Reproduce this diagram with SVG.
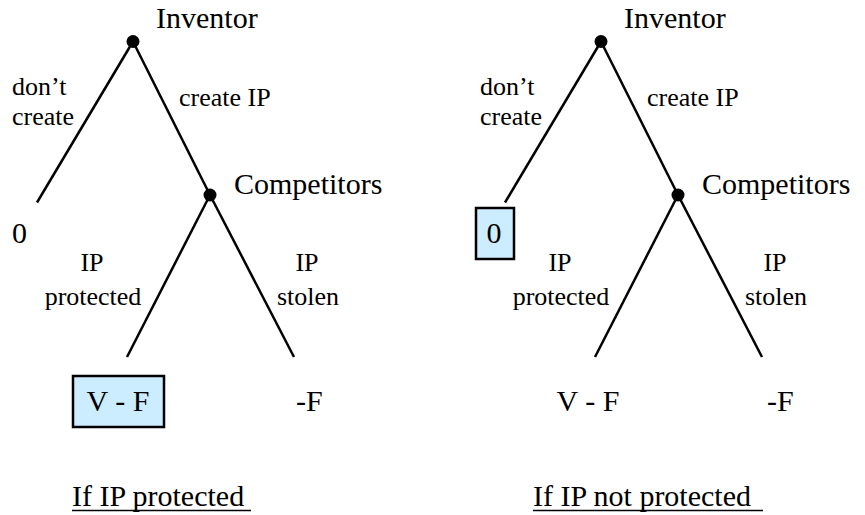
<svg xmlns="http://www.w3.org/2000/svg" width="865" height="515" viewBox="0 0 865 515" font-family="Liberation Serif, Times New Roman, serif">
<style>
.ln{stroke:#000;stroke-width:2.5;fill:none}
.dot{fill:#000}
.big{font-size:30px;fill:#000}
.sm{font-size:26px;fill:#000}
.box{fill:#CCECFF;stroke:#000;stroke-width:2.5}
.ul{stroke:#000;stroke-width:1.5}
</style>
<rect width="865" height="515" fill="#fff"/>
<g id="connectors">
<line class="ln" x1="133" y1="41.5" x2="37" y2="202.5"/>
<line class="ln" x1="133" y1="41.5" x2="210" y2="195"/>
<line class="ln" x1="210" y1="195" x2="127" y2="357"/>
<line class="ln" x1="210" y1="195" x2="294" y2="357"/>
<line class="ln" x1="601" y1="41.5" x2="505" y2="202.5"/>
<line class="ln" x1="601" y1="41.5" x2="678" y2="195"/>
<line class="ln" x1="678" y1="195" x2="595" y2="357"/>
<line class="ln" x1="678" y1="195" x2="762" y2="357"/>
</g>
<g id="left-inventor">
<circle class="dot" cx="133" cy="41.5" r="6.5"/>
<text class="big" x="156" y="28" font-family="Liberation Serif, serif">Inventor</text>
</g>
<g id="left-labels">
<text class="sm" x="12" y="95">don’t</text>
<text class="sm" x="12" y="125">create</text>
<text class="sm" x="179" y="106">create IP</text>
<text class="sm" x="92" y="271" text-anchor="middle">IP</text>
<text class="sm" x="93" y="305" text-anchor="middle">protected</text>
<text class="sm" x="307" y="271" text-anchor="middle">IP</text>
<text class="sm" x="308" y="305" text-anchor="middle">stolen</text>
</g>
<g id="left-competitors">
<circle class="dot" cx="210" cy="195" r="6.5"/>
<text class="big" x="234" y="194">Competitors</text>
</g>
<g id="left-zero">
<text class="big" x="12" y="243">0</text>
</g>
<g id="left-vf">
<rect class="box" x="73" y="376" width="91" height="51"/>
<text class="big" x="118" y="411" text-anchor="middle">V - F</text>
</g>
<g id="left-negf">
<text class="big" x="296" y="411">-F</text>
</g>
<g id="left-title">
<text class="big" x="72" y="506">If IP protected</text>
<line class="ul" x1="72" y1="510.5" x2="251" y2="510.5"/>
</g>
<g id="right-inventor">
<circle class="dot" cx="601" cy="41.5" r="6.5"/>
<text class="big" x="624" y="28">Inventor</text>
</g>
<g id="right-labels">
<text class="sm" x="480" y="95">don’t</text>
<text class="sm" x="480" y="125">create</text>
<text class="sm" x="647" y="106">create IP</text>
<text class="sm" x="560" y="271" text-anchor="middle">IP</text>
<text class="sm" x="561" y="305" text-anchor="middle">protected</text>
<text class="sm" x="775" y="271" text-anchor="middle">IP</text>
<text class="sm" x="776" y="305" text-anchor="middle">stolen</text>
</g>
<g id="right-competitors">
<circle class="dot" cx="678" cy="195" r="6.5"/>
<text class="big" x="702" y="194">Competitors</text>
</g>
<g id="right-zero">
<rect class="box" x="476" y="208" width="38" height="51"/>
<text class="big" x="494" y="243" text-anchor="middle">0</text>
</g>
<g id="right-vf">
<text class="big" x="588" y="411" text-anchor="middle">V - F</text>
</g>
<g id="right-negf">
<text class="big" x="767" y="411">-F</text>
</g>
<g id="right-title">
<text class="big" x="533" y="506">If IP not protected</text>
<line class="ul" x1="533" y1="510.5" x2="763" y2="510.5"/>
</g>
</svg>
